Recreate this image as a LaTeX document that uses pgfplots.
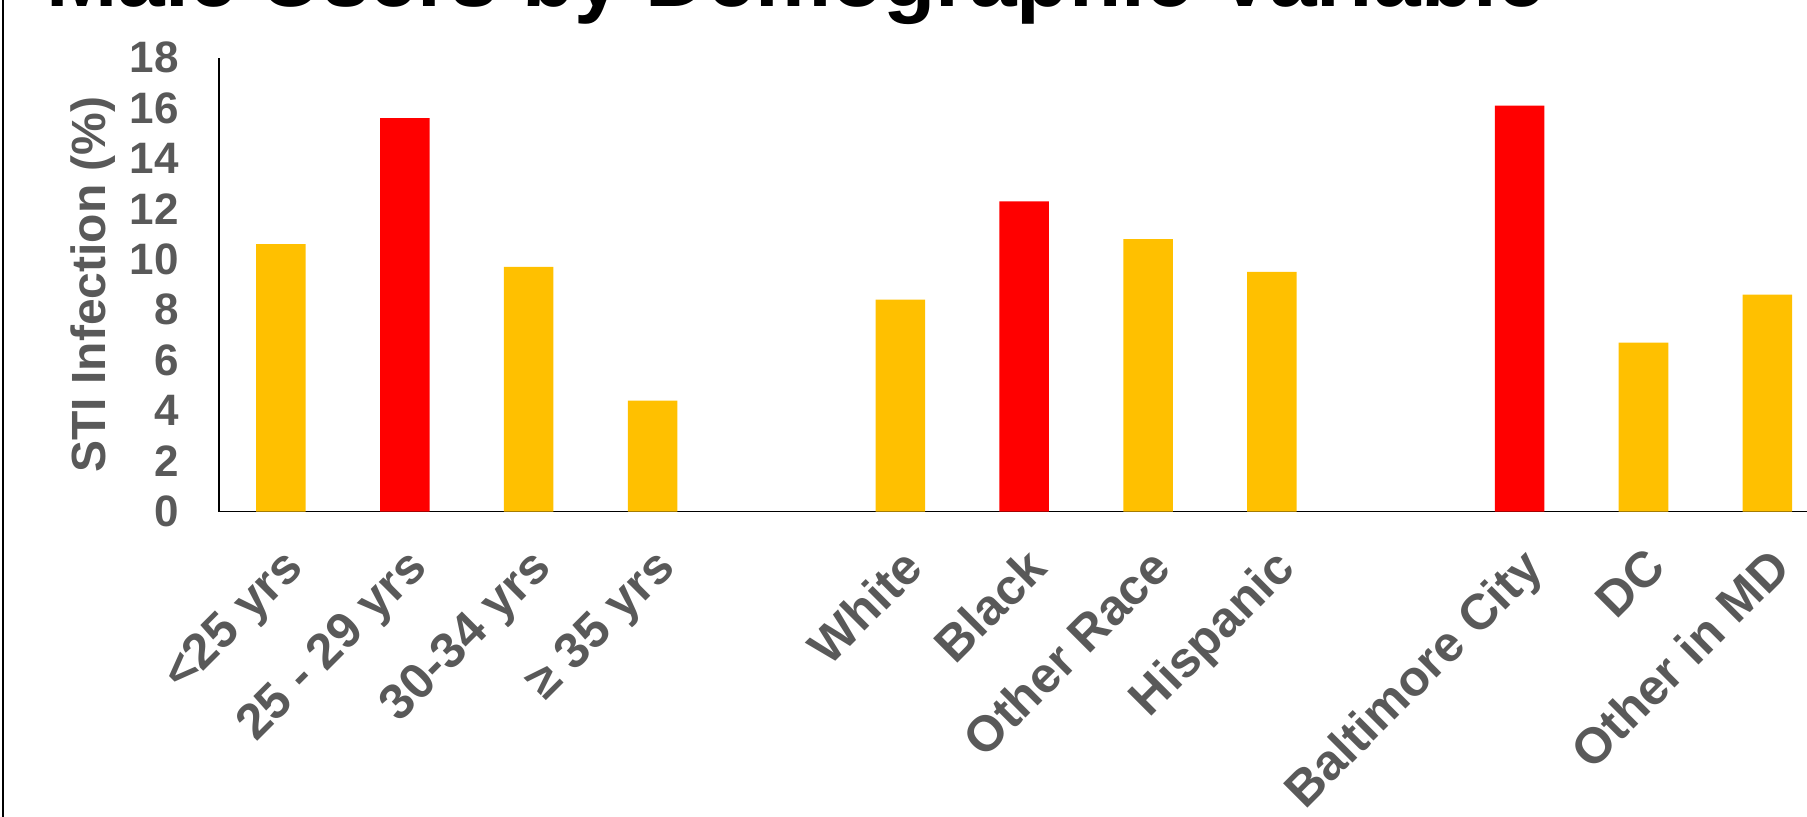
\documentclass[border=0pt]{standalone}
\usepackage{fontspec}
\setmainfont{Liberation Sans}
\usepackage{pgfplots}
\pgfplotsset{compat=1.18}
\definecolor{barGold}{HTML}{FFC000}
\definecolor{barRed}{HTML}{FF0000}
\definecolor{txtGray}{HTML}{595959}

\begin{document}
\begin{tikzpicture}
  % page = cropped slide region
  \path[use as bounding box] (-109.5pt,-152.7pt) rectangle (794pt,255.8pt);
  \draw[line width=1pt] (-107.75pt,-152.7pt) -- (-107.75pt,255.8pt);

  \begin{axis}[
      name=main,
      at={(0,0)}, anchor=south west,
      width=794pt, height=227pt, scale only axis,
      xmin=-0.5, xmax=12.32,
      ymin=0, ymax=18,
      ytick={0,2,...,18},
      xtick={0,1,2,3,5,6,7,8,10,11,12},
      xticklabels={<25 yrs, 25 - 29 yrs, 30-34 yrs, ≥ 35 yrs,
                   White, Black, Other Race, Hispanic,
                   Baltimore City, DC, Other in MD},
      axis x line=bottom, axis y line=left,
      axis line style={-, line width=0.9pt, black},
      major tick length=0pt,
      /pgf/number format/assume math mode=true,
      tick label style={text=txtGray},
      yticklabel style={font=\fontsize{22}{26}\selectfont\bfseries, inner sep=0pt, xshift=-20pt},
      xticklabel style={font=\fontsize{25}{29}\selectfont\bfseries,
                        xshift=-0.2pt, yshift=-16.5pt, rotate=45, anchor=north east, inner sep=0pt},
      ylabel={STI Infection (\%)},
      every axis y label/.style={at={(axis description cs:-0.0791,0.5)}, rotate=90, anchor=center,
                                 font=\fontsize{24}{28}\selectfont\bfseries, text=txtGray},
      bar width=0.4, bar shift=0pt,
    ]
    % gold bars
    \addplot[ybar, fill=barGold, draw=none] coordinates {
      (0,10.6) (2,9.7) (3,4.4)
      (5,8.4) (7,10.8) (8,9.5)
      (11,6.7) (12,8.6)
    };
    % red bars (highest in each group)
    \addplot[ybar, fill=barRed, draw=none] coordinates {
      (1,15.6) (6,12.3) (10,16.1)
    };
  \end{axis}

  \node[anchor=base west, inner sep=0pt, font=\fontsize{42.8}{48}\selectfont\bfseries]
    at (-86.5pt,252.3pt) {Male Users by Demographic Variable};
\end{tikzpicture}
\end{document}
